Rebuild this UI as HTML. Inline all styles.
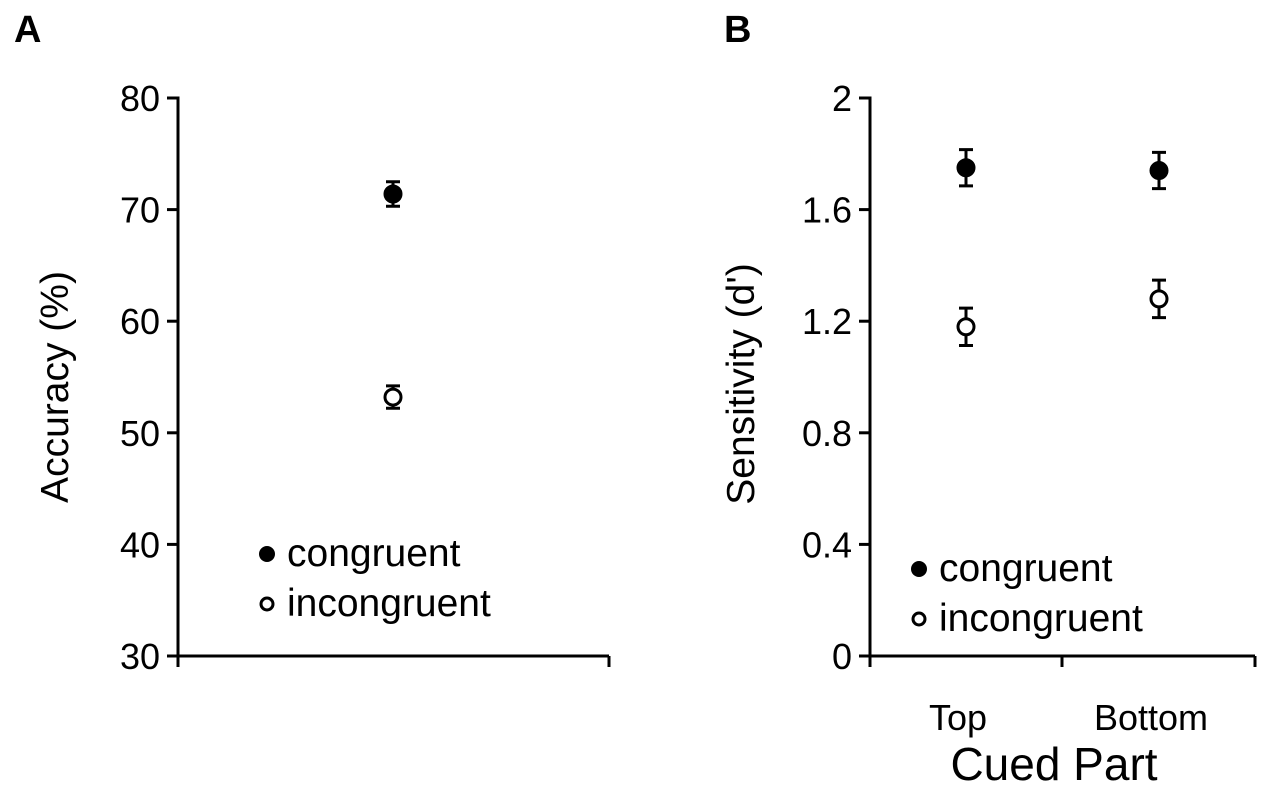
<!DOCTYPE html>
<html><head><meta charset="utf-8"><style>
html,body{margin:0;padding:0;background:#fff;}
svg{display:block;font-family:"Liberation Sans",Arial,sans-serif;}
</style></head><body>
<svg id="chart" width="1267" height="791" viewBox="0 0 1267 791">
<text x="14" y="42" font-size="38" font-weight="bold">A</text>
<text x="724" y="42" font-size="38" font-weight="bold">B</text>
<g id="pa"></g>
<g id="pb"></g>
<text x="0" y="0" font-size="39" text-anchor="middle" transform="translate(68,387) rotate(-90)">Accuracy (%)</text>
<text x="0" y="0" font-size="39" text-anchor="middle" transform="translate(754,384) rotate(-90)">Sensitivity (d')</text>
<text x="1054" y="780" font-size="46" text-anchor="middle">Cued Part</text>
</svg>
<script>
const aTicks=[30,40,50,60,70,80];
const aCong=[71.4], aCongErr=[1.1];
const aInc=[53.2], aIncErr=[1.0];
const bCats=["Top","Bottom"];
const bTicks=[0,0.4,0.8,1.2,1.6,2];
const bTickLabels=["0","0.4","0.8","1.2","1.6","2"];
const bCong=[1.75,1.74], bCongErr=[0.065,0.065];
const bInc=[1.18,1.28], bIncErr=[0.067,0.067];
const NS="http://www.w3.org/2000/svg";
function mk(p,t,a,txt){const e=document.createElementNS(NS,t);for(const k in a)e.setAttribute(k,a[k]);if(txt!==undefined)e.textContent=txt;p.appendChild(e);return e;}
const Y0=656,Y1=98;
const yA=v=>Y0-(v-30)/50*(Y0-Y1);
const yB=v=>Y0-v/2*(Y0-Y1);
function axis(g,ax,x1,yfn,ticks,labels,xTicks){
  let l=mk(g,'path',{d:`M${ax-11},${Y1}H${ax}V${Y0}H${x1}`,fill:'none',stroke:'#000','stroke-width':3});
  
  ticks.forEach((t,i)=>{const y=yfn(t);
    let tk=mk(g,'line',{x1:ax-11,x2:ax,y1:y,y2:y,stroke:'#000','stroke-width':3});
    
    let tx=mk(g,'text',{x:ax-18,y:y+13,'font-size':36,'text-anchor':'end'},labels[i]);
    });
  xTicks.forEach(x=>{let tk=mk(g,'line',{x1:x,x2:x,y1:Y0,y2:Y0+11,stroke:'#000','stroke-width':3});
    });
}
function pt(g,x,y,e,filled,name){
  let gg=mk(g,'g',{});
  mk(gg,'path',{d:`M${x},${y-e}V${y+e}M${x-7},${y-e}H${x+7}M${x-7},${y+e}H${x+7}`,stroke:'#000','stroke-width':3,fill:'none'});
  mk(gg,'circle',{cx:x,cy:y,r:filled?9:8,fill:filled?'#000':'#fff',stroke:'#000','stroke-width':filled?1:3});
}
function legend(g,x,y){
  let a=mk(g,'circle',{cx:x,cy:y,r:8,fill:'#000'});
  let t=mk(g,'text',{x:x+20,y:y+12,'font-size':39},'congruent');
  let b=mk(g,'circle',{cx:x,cy:y+50,r:6,fill:'#fff',stroke:'#000','stroke-width':3});
  let u=mk(g,'text',{x:x+20,y:y+62,'font-size':39},'incongruent');
}
const pa=document.getElementById('pa');
axis(pa,178,609,yA,aTicks,aTicks.map(String),[178,609]);
const sA=(Y0-Y1)/50;
aCong.forEach((v,i)=>pt(pa,393,yA(v),aCongErr[i]*sA,true,'point-congruent'));
aInc.forEach((v,i)=>pt(pa,393,yA(v),aIncErr[i]*sA,false,'point-incongruent'));
legend(pa,267,554);
const pb=document.getElementById('pb');
const bx=i=>966+i*193;
axis(pb,870,1255,yB,bTicks,bTickLabels,[870,1062,1255]);
const sB=(Y0-Y1)/2;
bCats.forEach((c,i)=>{let t=mk(pb,'text',{x:bx(i)-8,y:730,'font-size':36,'text-anchor':'middle'},c);
  });
bCong.forEach((v,i)=>pt(pb,bx(i),yB(v),bCongErr[i]*sB,true,'point-congruent'));
bInc.forEach((v,i)=>pt(pb,bx(i),yB(v),bIncErr[i]*sB,false,'point-incongruent'));
legend(pb,919,569);
</script>
</body></html>
